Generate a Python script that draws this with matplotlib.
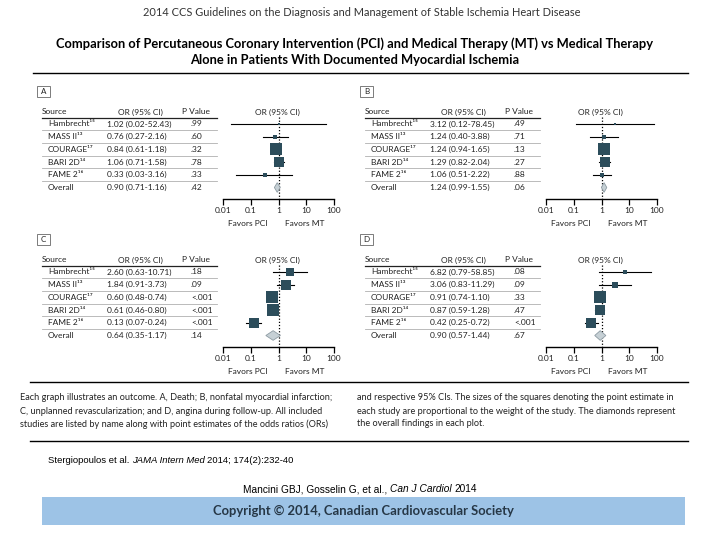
import matplotlib
matplotlib.use("Agg")
import matplotlib.pyplot as plt
from matplotlib.patches import Rectangle, Polygon
import numpy as np

plt.rcParams['font.family'] = ['Lato', 'DejaVu Sans']

# ---------------- data ----------------
studies = ["Hambrecht", "MASS II", "COURAGE", "BARI 2D", "FAME 2"]
refs = ["\u00b9\u2075", "\u00b9\u00b3", "\u00b9\u2077", "\u00b9\u2074", "\u00b9\u2076"]
ticks = [0.01, 0.1, 1, 10, 100]
tick_labels = ["0.01", "0.1", "1", "10", "100"]

# Panel A: death
A_or = [1.02, 0.76, 0.84, 1.06, 0.33]
A_lo = [0.02, 0.27, 0.61, 0.71, 0.03]
A_hi = [52.43, 2.16, 1.18, 1.58, 3.16]
A_p = [".99", ".60", ".32", ".78", ".33"]
A_w = [1.5, 5.5, 51, 39, 3]
A_overall = [0.90, 0.71, 1.16]
A_overall_p = ".42"

# Panel B: nonfatal MI
B_or = [3.12, 1.24, 1.24, 1.29, 1.06]
B_lo = [0.12, 0.40, 0.94, 0.82, 0.51]
B_hi = [78.45, 3.88, 1.65, 2.04, 2.22]
B_p = [".49", ".71", ".13", ".27", ".88"]
B_w = [1.6, 6.4, 57, 30, 5]
B_overall = [1.24, 0.99, 1.55]
B_overall_p = ".06"

# Panel C: unplanned revascularization
C_or = [2.60, 1.84, 0.60, 0.61, 0.13]
C_lo = [0.63, 0.91, 0.48, 0.46, 0.07]
C_hi = [10.71, 3.73, 0.74, 0.80, 0.24]
C_p = [".18", ".09", "<.001", "<.001", "<.001"]
C_w = [10, 19, 26, 25, 19]
C_overall = [0.64, 0.35, 1.17]
C_overall_p = ".14"

# Panel D: angina
D_or = [6.82, 3.06, 0.91, 0.87, 0.42]
D_lo = [0.79, 0.83, 0.74, 0.59, 0.25]
D_hi = [58.85, 11.29, 1.10, 1.28, 0.72]
D_p = [".08", ".09", ".33", ".47", "<.001"]
D_w = [4, 9, 37, 26, 24]
D_overall = [0.90, 0.57, 1.44]
D_overall_p = ".67"

# ---------------- figure ----------------
W, H = 720, 540
fig = plt.figure(figsize=(7.2, 5.4), dpi=100)
ax0 = fig.add_axes([0, 0, 1, 1])
ax0.set_xlim(0, W)
ax0.set_ylim(H, 0)
ax0.axis('off')

SQ = '#2c4d5b'
TXT = '#222222'
FS = 6.0

ax0.text(362, 12, "2014 CCS Guidelines on the Diagnosis and Management of Stable Ischemia Heart Disease",
         ha='center', va='center', fontsize=7.9, color='#333333')
ax0.text(355, 44, "Comparison of Percutaneous Coronary Intervention (PCI) and Medical Therapy (MT) vs Medical Therapy",
         ha='center', va='center', fontsize=9.3, fontweight='bold', color='black')
ax0.text(355, 60, "Alone in Patients With Documented Myocardial Ischemia",
         ha='center', va='center', fontsize=9.3, fontweight='bold', color='black')
ax0.plot([33, 688], [73, 73], color='black', lw=1)

ROW0, DROW = 124.0, 12.7
TOP, BOT = 117.0, 199.0


def panel(label, dx, dy, ors, los, his, ps, ws, overall, overall_p):
    ax0.add_patch(Rectangle((37 + dx, 86 + dy), 13, 11, fill=False, ec='#666666', lw=0.6))
    ax0.text(43.5 + dx, 91.8 + dy, label, ha='center', va='center', fontsize=5.8, color=TXT)
    hy = 112 + dy
    ax0.text(42 + dx, hy, "Source", ha='left', va='center', fontsize=FS, color=TXT)
    ax0.text(140 + dx, hy, "OR (95% CI)", ha='center', va='center', fontsize=FS, color=TXT)
    ax0.text(196 + dx, hy, "P Value", ha='center', va='center', fontsize=FS, color=TXT)
    ax0.text(277 + dx, hy, "OR (95% CI)", ha='center', va='center', fontsize=FS, color=TXT)
    ax0.plot([42 + dx, 217 + dx], [118 + dy] * 2, color='#222222', lw=0.9)
    names = [s + r for s, r in zip(studies, refs)] + ["Overall"]
    all_or = list(ors) + [overall[0]]
    all_lo = list(los) + [overall[1]]
    all_hi = list(his) + [overall[2]]
    all_p = list(ps) + [overall_p]
    for i in range(6):
        y = ROW0 + DROW * i + dy
        ax0.text(48 + dx, y, names[i], ha='left', va='center', fontsize=FS, color=TXT)
        ax0.text(107 + dx, y, f"{all_or[i]:.2f} ({all_lo[i]:.2f}-{all_hi[i]:.2f})",
                 ha='left', va='center', fontsize=FS, color=TXT)
        ax0.text(191 + dx, y, all_p[i], ha='left', va='center', fontsize=FS, color=TXT)
        if i < 5:
            ys = y + DROW / 2
            ax0.plot([42 + dx, 217 + dx], [ys, ys], color='#b0b0b0', lw=0.6)
    # forest axes
    x0, x1 = 223 + dx, 334 + dx
    top, bot = TOP + dy, BOT + dy
    ax = fig.add_axes([x0 / W, 1 - bot / H, (x1 - x0) / W, (bot - top) / H])
    ax.patch.set_alpha(0)
    ax.set_xscale('log')
    ax.set_xlim(0.01, 100)
    ylo = (TOP - ROW0) / DROW
    yhi = (BOT - ROW0) / DROW
    ax.set_ylim(yhi, ylo)
    for s in ['top', 'left', 'right']:
        ax.spines[s].set_visible(False)
    ax.spines['bottom'].set_linewidth(1.0)
    ax.set_yticks([])
    ax.set_xticks(ticks)
    ax.set_xticklabels(tick_labels)
    ax.minorticks_off()
    ax.tick_params(axis='x', direction='out', length=4, width=0.9, pad=2,
                   labelsize=6.0, labelcolor=TXT)
    ax.plot([1, 1], [ylo, yhi], color='black', lw=0.9, ls=(0, (1, 1.5)), zorder=1)
    wmax = max(ws)
    for i in range(5):
        ax.plot([los[i], his[i]], [i, i], color='black', lw=0.8, zorder=2)
        side = 12.5 * np.sqrt(ws[i] / wmax)
        ax.plot([ors[i]], [i], marker='s', ms=side * 0.72, color=SQ, mec=SQ, mew=0, zorder=3)
    o, lo, hi = overall
    h = 0.38
    ax.add_patch(Polygon([(lo, 5), (o, 5 - h), (hi, 5), (o, 5 + h)], closed=True,
                         fc='#c6d0d5', ec='#8d9ba3', lw=0.6, zorder=3))
    ax0.text(248 + dx, 223 + dy, "Favors PCI", ha='center', va='center', fontsize=6.0, color=TXT)
    ax0.text(305 + dx, 223 + dy, "Favors MT", ha='center', va='center', fontsize=6.0, color=TXT)


panel("A", 0, 0, A_or, A_lo, A_hi, A_p, A_w, A_overall, A_overall_p)
panel("B", 323, 0, B_or, B_lo, B_hi, B_p, B_w, B_overall, B_overall_p)
panel("C", 0, 148, C_or, C_lo, C_hi, C_p, C_w, C_overall, C_overall_p)
panel("D", 323, 148, D_or, D_lo, D_hi, D_p, D_w, D_overall, D_overall_p)

ax0.plot([30, 688], [382, 382], color='black', lw=1)
cap_left = ["Each graph illustrates an outcome. A, Death; B, nonfatal myocardial infarction;",
            "C, unplanned revascularization; and D, angina during follow-up. All included",
            "studies are listed by name along with point estimates of the odds ratios (ORs)"]
cap_right = ["and respective 95% CIs. The sizes of the squares denoting the point estimate in",
             "each study are proportional to the weight of the study. The diamonds represent",
             "the overall findings in each plot."]
for k, (l, r) in enumerate(zip(cap_left, cap_right)):
    yy = 398 + 13 * k
    ax0.text(20, yy, l, ha='left', va='center', fontsize=6.6, color=TXT)
    ax0.text(357, yy, r, ha='left', va='center', fontsize=6.6, color=TXT)
ax0.plot([30, 688], [441, 441], color='black', lw=1)

# mixed-style lines
fig.canvas.draw()
rend = fig.canvas.get_renderer()


def mixed(x, y, parts, ha='left', **kw):
    objs = []
    widths = []
    for txt, style in parts:
        t = ax0.text(0, y, txt, ha='left', va='baseline', style=style, **kw)
        bb = t.get_window_extent(rend)
        objs.append(t)
        widths.append(bb.width)
    sp = ax0.text(0, y, "a a", **kw)
    sp2 = ax0.text(0, y, "aa", **kw)
    space = sp.get_window_extent(rend).width - sp2.get_window_extent(rend).width
    sp.remove(); sp2.remove()
    total = sum(widths) + space * (len(parts) - 1)
    cx = x - total / 2 if ha == 'center' else x
    for t, w in zip(objs, widths):
        t.set_x(cx)
        cx += w + space


mixed(48, 463, [("Stergiopoulos et al.", 'normal'), ("JAMA Intern Med", 'italic'),
                ("2014; 174(2):232-40", 'normal')],
      fontsize=6.8, family='Liberation Sans', color='black')
mixed(360, 492, [("Mancini GBJ, Gosselin G, et al.,", 'normal'), ("Can J Cardiol", 'italic'),
                 ("2014", 'normal')], ha='center',
      fontsize=7.3, family='Liberation Sans', color='black')

ax0.add_patch(Rectangle((42, 497), 643, 28, fc='#9dc3e6', ec='none'))
ax0.text(363, 511, "Copyright \u00a9 2014, Canadian Cardiovascular Society", ha='center', va='center',
         fontsize=9.4, fontweight='bold', color='#263746')

fig.savefig("out.png", dpi=100)
